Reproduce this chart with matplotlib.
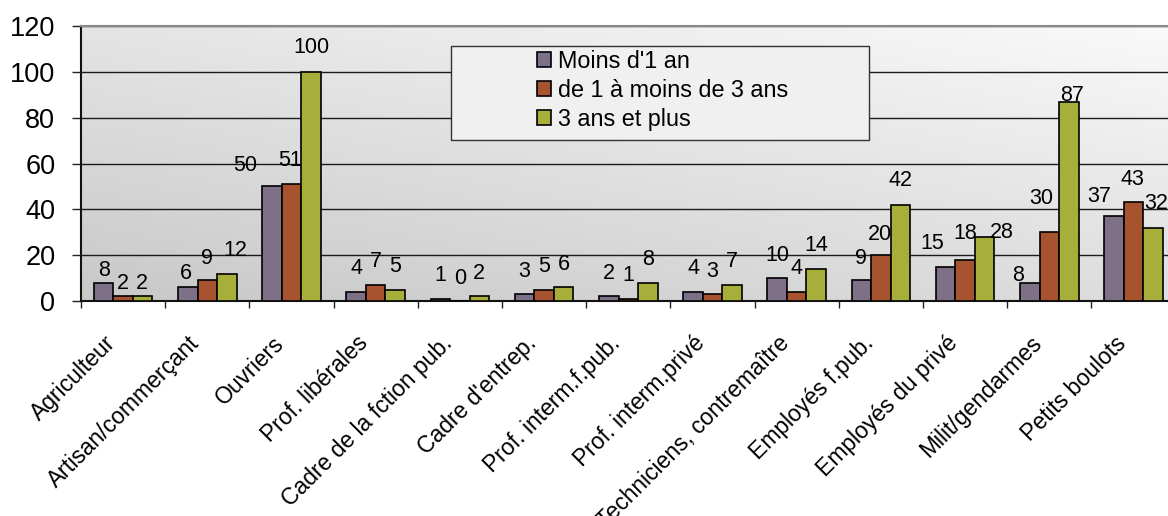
import numpy as np
import matplotlib
matplotlib.use("Agg")
import matplotlib.pyplot as plt
from matplotlib.patches import Rectangle
from matplotlib.transforms import ScaledTranslation

plt.rcParams['font.family'] = ['Liberation Sans', 'DejaVu Sans']

categories = [
    "Agriculteur", "Artisan/commerçant", "Ouvriers", "Prof. libérales",
    "Cadre de la fction pub.", "Cadre d'entrep.", "Prof. interm.f.pub.",
    "Prof. interm.privé", "Techniciens, contremaître", "Employés f.pub.",
    "Employés du privé", "Milit/gendarmes", "Petits boulots",
]
series_names = ["Moins d'1 an", "de 1 à moins de 3 ans", "3 ans et plus"]
moins_1_an = [8, 6, 50, 4, 1, 3, 2, 4, 10, 9, 15, 8, 37]
de_1_a_3_ans = [2, 9, 51, 7, 0, 5, 1, 3, 4, 20, 18, 30, 43]
trois_ans_plus = [2, 12, 100, 5, 2, 6, 8, 7, 14, 42, 28, 87, 32]
y_ticks = [0, 20, 40, 60, 80, 100, 120]

colors = ["#7d7087", "#a8532f", "#a8ae3a"]

# Label nudges (pixels): horizontal shift and height of label centre above bar top
label_nudge = [
    [(0, 14), (0, 15), (-1, 15)],
    [(-2, 16), (0, 24), (9, 25)],
    [(-27, 23), (-1, 26), (0, 26)],
    [(0, 25), (0, 25), (0, 25)],
    [(0, 25), (0, 25), (0, 25)],
    [(0, 25), (0, 25), (0, 25)],
    [(0, 25), (0, 25), (0, 25)],
    [(0, 25), (0, 25), (0, 25)],
    [(0, 25), (0, 25), (0, 25)],
    [(0, 24), (-1, 23), (0, 26)],
    [(-13, 25), (0, 28), (17, 6)],
    [(-12, 9), (-8, 36), (3, 8)],
    [(-15, 22), (-1, 25), (3, 26)],
]

W, H = 1168, 516
fig = plt.figure(figsize=(W / 100, H / 100), dpi=100)
fig.patch.set_facecolor("white")
ax = fig.add_axes([81 / W, 1 - 301 / H, 1094.6 / W, 275 / H])

# Diagonal grey gradient behind the plot
gx, gy = np.meshgrid(np.linspace(0, 1, 300), np.linspace(0, 1, 200))
shade = 0.785 + 0.11 * gy + 0.085 * gx
ax.imshow(np.dstack([shade, shade, shade]), extent=(0, 1, 0, 1),
          transform=ax.transAxes, origin="lower", aspect="auto", zorder=0)
ax.patch.set_visible(False)

x = np.arange(len(categories))
width = 0.2312
all_series = [moins_1_an, de_1_a_3_ans, trois_ans_plus]
bars = []
for i, (vals, col, name) in enumerate(zip(all_series, colors, series_names)):
    b = ax.bar(x + (i - 1) * width, vals, width, color=col, edgecolor="black",
               linewidth=1.2, label=name, zorder=3)
    bars.append(b)
    for j, v in enumerate(vals):
        dx, dy = label_nudge[j][i]
        ax.annotate(str(v), xy=(x[j] + (i - 1) * width, v), xytext=(dx, dy - 7.5),
                    textcoords="offset pixels", ha="center", va="baseline",
                    fontsize=15.5, color="black", zorder=4, annotation_clip=False)

ax.set_xlim(-0.5, len(categories) - 0.5)
ax.set_ylim(0, 120)

ax.set_yticks(y_ticks)
ax.set_yticklabels([str(t) for t in y_ticks], fontsize=19.5)
ax.tick_params(axis="y", direction="out", length=6.5, width=1.0, color="#222222", pad=12)
ax.yaxis.grid(True, color="#1a1a1a", linewidth=1.0)
ax.set_axisbelow(True)

ax.set_xticks(x)
ax.set_xticklabels(categories, fontsize=16.5, rotation=45, ha="right",
                   va="center", rotation_mode="anchor")
ax.set_xticks(np.arange(-0.5, len(categories) + 0.5, 1), minor=True)
ax.tick_params(axis="x", which="major", length=0, pad=28)
ax.tick_params(axis="x", which="minor", direction="out", length=5, width=1.0, color="#222222")
shift = ScaledTranslation(-11 / 100, 0, fig.dpi_scale_trans)
for lab in ax.get_xticklabels():
    lab.set_transform(lab.get_transform() + shift)

for side in ("left", "bottom"):
    ax.spines[side].set_color("#111111")
    ax.spines[side].set_linewidth(1.5)
ax.spines["top"].set_color("#888888")
ax.spines["top"].set_linewidth(1.5)
ax.spines["right"].set_visible(False)

# Legend box
box = Rectangle((451 / W, 1 - 140 / H), (869 - 451) / W, (140 - 45.7) / H,
                transform=fig.transFigure, facecolor="#f0f0f0", edgecolor="#333333",
                linewidth=1.0, zorder=2.5, clip_on=False)
ax.add_patch(box)
leg = ax.legend(handles=bars, labels=series_names, loc="upper left",
                bbox_to_anchor=(537 / W, 1 - 50 / H), bbox_transform=fig.transFigure,
                frameon=False, fontsize=16.8, handlelength=0.6, handleheight=0.6,
                handletextpad=0.3, labelspacing=0.25, borderpad=0, borderaxespad=0)
leg.set_zorder(5)

fig.savefig("out.png", dpi=100)
